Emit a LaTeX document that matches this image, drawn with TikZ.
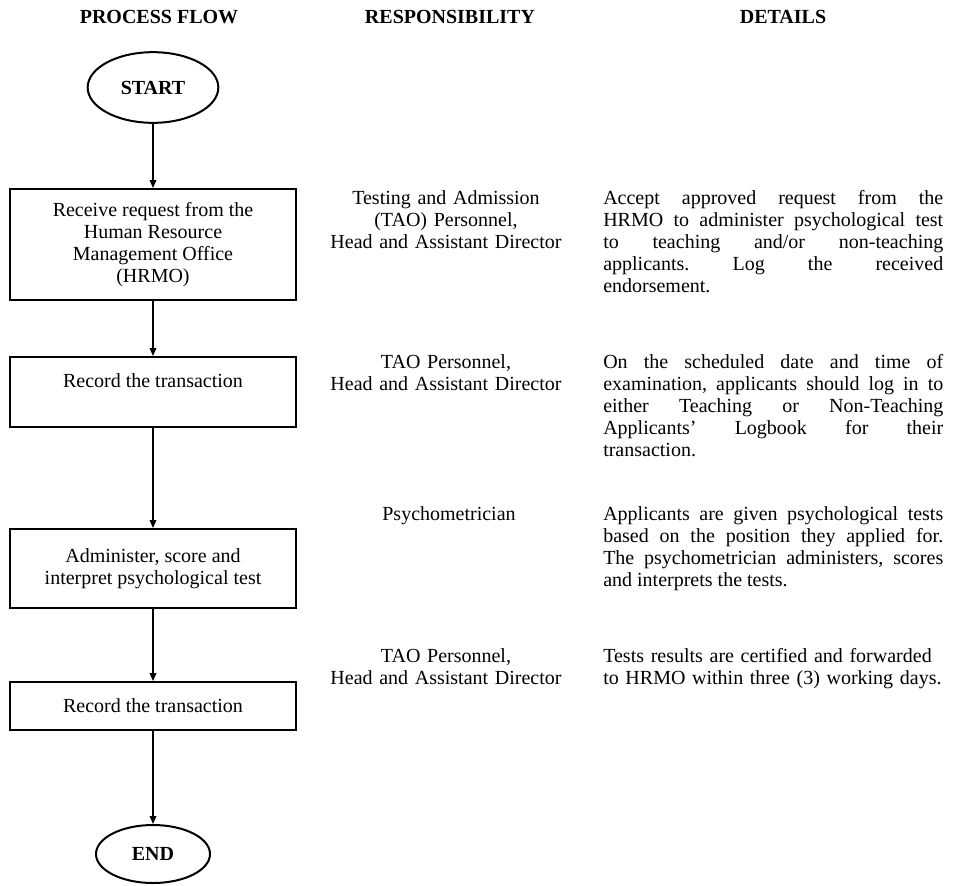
\documentclass[tikz,border=0pt]{standalone}
\usepackage{fontspec}
\setmainfont{Liberation Serif}
\usetikzlibrary{shapes.geometric,arrows.meta}
\tolerance=10000
\hbadness=10000
\hyphenpenalty=10000
\frenchspacing

\begin{document}
\begin{tikzpicture}[x=0.75pt,y=-0.75pt,
        every node/.style={font=\fontsize{15pt}{16.5pt}\selectfont, inner sep=0pt},
        header/.style={font=\fontsize{15pt}{16.5pt}\selectfont\bfseries},
        terminal/.style={draw, ellipse, line width=1.5pt, font=\fontsize{15pt}{16.5pt}\selectfont\bfseries},
        procbox/.style={draw, rectangle, line width=1.5pt, minimum width=214.5pt, align=center},
        who/.style={anchor=base, text width=190pt, align=center},
        what/.style={anchor=base west, text width=255pt, align=justify},
        flow/.style={line width=1pt, -{Triangle[length=6pt,width=5pt]}}]
        \useasboundingbox (0,0) rectangle (966,885);
    % Column titles.
        \node[header] (hflow) at (159,17) {PROCESS FLOW};
        \node[header] (hresp) at (450,17) {RESPONSIBILITY};
        \node[header] (hdet) at (783,17) {DETAILS};
    % The flow on the left.
        \node[terminal, minimum width=98pt, minimum height=53pt] (start) at (153,87.5) {START};
        \node[procbox, minimum height=83.25pt] (b1) at (153,244.5) {Receive request from the\\Human Resource\\Management Office\\(HRMO)};
        \node[procbox, minimum height=52.5pt] (b2) at (153,392) {Record the transaction\\ \mbox{}};
        \node[procbox, minimum height=59.25pt] (b3) at (153,568.5) {Administer, score and\\interpret psychological test};
        \node[procbox, minimum height=36pt] (b4) at (153,706) {Record the transaction};
        \node[terminal, minimum width=85.5pt, minimum height=43.5pt] (end) at (153,854) {END};
        \draw[flow] (start) -- (b1);
        \draw[flow] (b1) -- (b2);
        \draw[flow] (b2) -- (b3);
        \draw[flow] (b3) -- (b4);
        \draw[flow] (b4) -- (end);
    % Who does each step.
        \node[who] (r1) at (446,204) {Testing and Admission\\(TAO) Personnel,\\Head and Assistant Director};
        \node[who] (r2) at (446,368) {TAO Personnel,\\Head and Assistant Director};
        \node[who] (r3) at (449,520) {Psychometrician};
        \node[who] (r4) at (446,662) {TAO Personnel,\\Head and Assistant Director};
    % Details of each step.
        \node[what] (d1) at (603,204) {Accept approved request from the\linebreak HRMO to administer psychological test\linebreak to teaching and/or non-teaching\linebreak applicants. Log the received\linebreak endorsement.};
        \node[what] (d2) at (603,368) {On the scheduled date and time of\linebreak examination, applicants should log in to\linebreak either Teaching or Non-Teaching\linebreak Applicants’ Logbook for their\linebreak transaction.};
        \node[what] (d3) at (603,520) {Applicants are given psychological tests\linebreak based on the position they applied for.\linebreak The psychometrician administers, scores\linebreak and interprets the tests.};
        \node[what, align=left] (d4) at (603,662) {Tests results are certified and forwarded\\to HRMO within three (3) working days.};
\end{tikzpicture}
\end{document}
